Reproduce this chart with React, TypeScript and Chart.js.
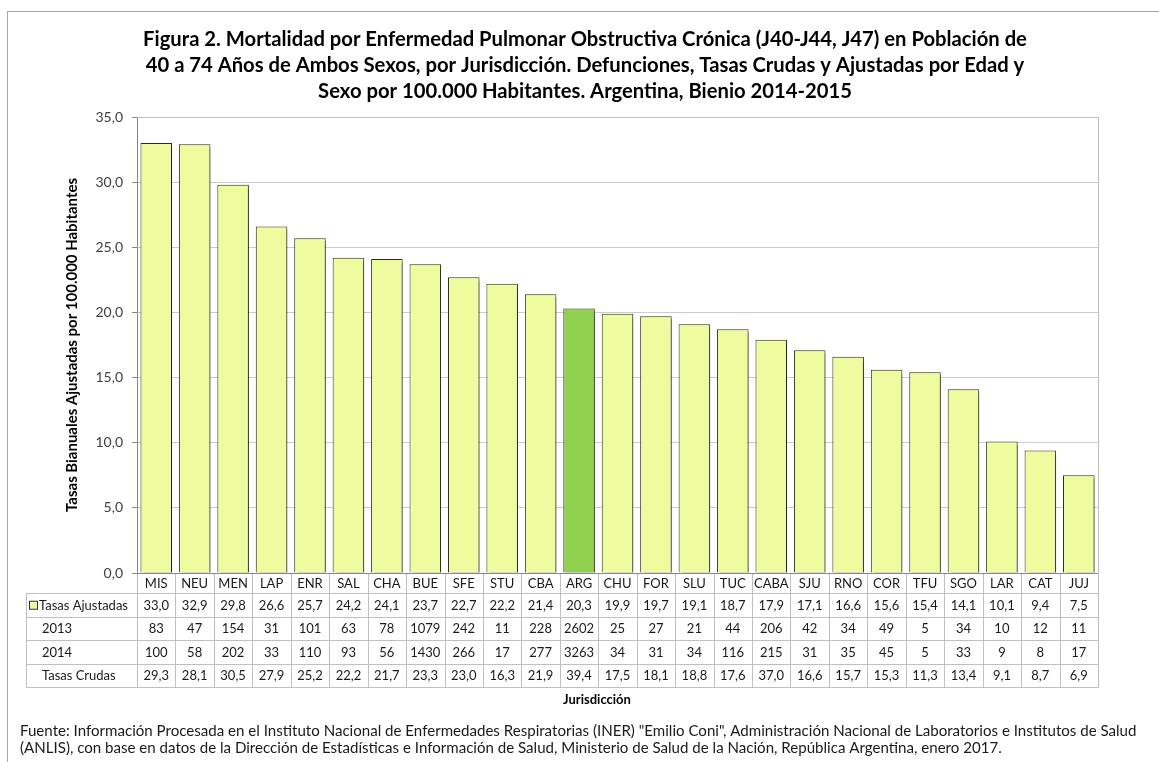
import React, { useEffect, useRef } from "react";
import { Chart, registerables } from "chart.js";

Chart.register(...registerables);

const categories = ["MIS", "NEU", "MEN", "LAP", "ENR", "SAL", "CHA", "BUE", "SFE", "STU", "CBA", "ARG", "CHU", "FOR", "SLU", "TUC", "CABA", "SJU", "RNO", "COR", "TFU", "SGO", "LAR", "CAT", "JUJ"];
const tasasAjustadas = [33.0, 32.9, 29.8, 26.6, 25.7, 24.2, 24.1, 23.7, 22.7, 22.2, 21.4, 20.3, 19.9, 19.7, 19.1, 18.7, 17.9, 17.1, 16.6, 15.6, 15.4, 14.1, 10.1, 9.4, 7.5];
const defunciones2013 = [83, 47, 154, 31, 101, 63, 78, 1079, 242, 11, 228, 2602, 25, 27, 21, 44, 206, 42, 34, 49, 5, 34, 10, 12, 11];
const defunciones2014 = [100, 58, 202, 33, 110, 93, 56, 1430, 266, 17, 277, 3263, 34, 31, 34, 116, 215, 31, 35, 45, 5, 33, 9, 8, 17];
const tasasCrudas = [29.3, 28.1, 30.5, 27.9, 25.2, 22.2, 21.7, 23.3, 23.0, 16.3, 21.9, 39.4, 17.5, 18.1, 18.8, 17.6, 37.0, 16.6, 15.7, 15.3, 11.3, 13.4, 9.1, 8.7, 6.9];
const highlightCategory = "ARG";

const rowLabels = ["Tasas Ajustadas", "2013", "2014", "Tasas Crudas"];
const titleLines = [
  "Figura 2. Mortalidad por Enfermedad Pulmonar Obstructiva Crónica (J40-J44, J47) en Población de",
  "40 a 74 Años de Ambos Sexos, por Jurisdicción. Defunciones, Tasas Crudas y Ajustadas por Edad y",
  "Sexo por 100.000 Habitantes. Argentina, Bienio 2014-2015",
];
const yAxisTitle = "Tasas Bianuales Ajustadas por 100.000 Habitantes";
const xAxisTitle = "Jurisdicción";
const sourceLines = [
  "Fuente: Información Procesada en el Instituto Nacional de Enfermedades Respiratorias (INER) \"Emilio Coni\", Administración Nacional de Laboratorios e Institutos de Salud",
  "(ANLIS), con base en datos de la Dirección de Estadísticas e Información de Salud, Ministerio de Salud de la Nación, República Argentina, enero 2017.",
];

const FONT = "Lato, 'Open Sans', sans-serif";
const BAR_COLOR = "#EEFB9E";
const HIGHLIGHT_COLOR = "#92D050";
const TABLE_LINE = "#BFBFBF";

const fmt1 = (v: number) => v.toFixed(1).replace(".", ",");

function fitSize(ctx: CanvasRenderingContext2D, text: string, weight: string, target: number) {
  ctx.font = `${weight} 20px ${FONT}`;
  const w = ctx.measureText(text).width;
  return (20 * target) / w;
}

const decorPlugin = {
  id: "decor",
  beforeDatasetsDraw(chart: any) {
    const ctx = chart.ctx;
    ctx.save();
    ctx.shadowColor = "rgba(0,0,0,0.35)";
    ctx.shadowOffsetX = 3;
    ctx.shadowOffsetY = 3;
    ctx.shadowBlur = 2;
  },
  afterDatasetsDraw(chart: any) {
    chart.ctx.restore();
  },
  afterDraw(chart: any) {
    const ctx: CanvasRenderingContext2D = chart.ctx;
    const area = chart.chartArea;
    const xs = chart.scales.x;
    const n = categories.length;
    const colW = (area.right - area.left) / n;

    ctx.save();
    // outer frame
    ctx.strokeStyle = "#A6A6A6";
    ctx.lineWidth = 1;
    ctx.strokeRect(7.5, 11.5, 1400, 1000);

    // plot border (top/right)
    ctx.strokeStyle = "#BFBFBF";
    ctx.beginPath();
    ctx.moveTo(area.left, Math.round(area.top) + 0.5);
    ctx.lineTo(Math.round(area.right) + 0.5, Math.round(area.top) + 0.5);
    ctx.lineTo(Math.round(area.right) + 0.5, Math.round(area.bottom));
    ctx.stroke();

    // title
    const tSize = fitSize(ctx, titleLines[0], "bold", 884);
    ctx.font = `bold ${tSize}px ${FONT}`;
    ctx.fillStyle = "#000";
    ctx.textAlign = "center";
    ctx.textBaseline = "middle";
    titleLines.forEach((l, i) => ctx.fillText(l, 585, 39 + i * 26));

    // y axis title
    const ySize = fitSize(ctx, yAxisTitle, "bold", 334);
    ctx.save();
    ctx.translate(72, (area.top + area.bottom) / 2);
    ctx.rotate(-Math.PI / 2);
    ctx.font = `bold ${ySize}px ${FONT}`;
    ctx.fillText(yAxisTitle, 0, 0);
    ctx.restore();

    // table
    const tableLeft = 26.5;
    const labelRowTop = Math.round(area.bottom);
    const labelRowH = 20;
    const rowH = 23.5;
    const rowTops = [0, 1, 2, 3, 4].map((i) => labelRowTop + labelRowH + i * rowH);
    const tableBottom = rowTops[4];

    ctx.strokeStyle = TABLE_LINE;
    ctx.lineWidth = 1;
    ctx.beginPath();
    for (let r = 0; r < 5; r++) {
      const yy = Math.round(rowTops[r]) + 0.5;
      ctx.moveTo(tableLeft, yy);
      ctx.lineTo(Math.round(area.right) + 0.5, yy);
    }
    ctx.moveTo(tableLeft, Math.round(rowTops[0]));
    ctx.lineTo(tableLeft, Math.round(tableBottom) + 0.5);
    for (let i = 0; i <= n; i++) {
      const xx = Math.round(area.left + i * colW) + 0.5;
      ctx.moveTo(xx, labelRowTop);
      ctx.lineTo(xx, Math.round(tableBottom) + 0.5);
    }
    ctx.stroke();

    // axis line at zero
    ctx.strokeStyle = "#868686";
    ctx.beginPath();
    ctx.moveTo(area.left - 5, labelRowTop + 0.5);
    ctx.lineTo(area.right, labelRowTop + 0.5);
    ctx.stroke();

    ctx.fillStyle = "#1A1A1A";
    ctx.font = `13px ${FONT}`;
    ctx.textAlign = "center";
    ctx.textBaseline = "middle";
    const rows = [
      tasasAjustadas.map(fmt1),
      defunciones2013.map(String),
      defunciones2014.map(String),
      tasasCrudas.map(fmt1),
    ];
    categories.forEach((c, i) => {
      const cx = xs.getPixelForValue(i);
      ctx.fillText(c, cx, labelRowTop + labelRowH / 2 + 1);
      rows.forEach((row, r) => {
        ctx.fillText(row[i], cx, rowTops[r] + rowH / 2 + 1);
      });
    });

    // row labels
    ctx.textAlign = "left";
    rowLabels.forEach((l, r) => {
      const cy = rowTops[r] + rowH / 2 + 1;
      if (r === 0) {
        ctx.fillStyle = BAR_COLOR;
        ctx.fillRect(29.5, cy - 4.5, 8, 8);
        ctx.strokeStyle = "#333";
        ctx.strokeRect(29.5, cy - 4.5, 8, 8);
        ctx.fillStyle = "#1A1A1A";
        ctx.fillText(l, 39, cy);
      } else {
        ctx.fillText(l, 42, cy);
      }
    });

    // x title
    ctx.textAlign = "center";
    ctx.font = `bold 13px ${FONT}`;
    ctx.fillStyle = "#000";
    ctx.fillText(xAxisTitle, 597, 700);

    // source
    const sSize = fitSize(ctx, sourceLines[0], "normal", 1118);
    ctx.font = `${sSize}px ${FONT}`;
    ctx.textAlign = "left";
    ctx.fillStyle = "#1A1A1A";
    sourceLines.forEach((l, i) => ctx.fillText(l, 20, 731 + i * 17));

    ctx.restore();
  },
};

export default function App() {
  const ref = useRef<HTMLCanvasElement>(null);
  useEffect(() => {
    if (!ref.current) return;
    const chart = new Chart(ref.current, {
      type: "bar",
      data: {
        labels: categories,
        datasets: [
          {
            label: "Tasas Ajustadas",
            data: tasasAjustadas,
            backgroundColor: categories.map((c) => (c === highlightCategory ? HIGHLIGHT_COLOR : BAR_COLOR)),
            borderColor: "#2B2B2B",
            borderWidth: 1,
            barPercentage: 0.82,
            categoryPercentage: 1,
          },
        ],
      },
      options: {
        responsive: false,
        animation: false,
        devicePixelRatio: 1,
        layout: { padding: { left: 0, top: 117, right: 61, bottom: 189 } },
        plugins: {
          legend: { display: false },
          title: { display: false },
          tooltip: { enabled: false },
        },
        scales: {
          x: {
            display: false,
          },
          y: {
            min: 0,
            max: 35,
            afterFit: (scale: any) => {
              scale.width = 137;
            },
            ticks: {
              stepSize: 5,
              padding: 9,
              color: "#404040",
              font: { family: FONT, size: 14 },
              callback: (v: any) => fmt1(Number(v)),
            },
            grid: {
              color: "#CCCCCC",
              tickColor: "#868686",
              tickLength: 5,
            },
            border: { display: true, color: "#868686" },
          },
        },
      },
      plugins: [decorPlugin],
    });
    return () => chart.destroy();
  }, []);
  return (
    <div style={{ position: "absolute", left: 0, top: 0, width: 1159, height: 762, background: "#fff" }}>
      <canvas ref={ref} width={1159} height={762} style={{ display: "block" }} />
    </div>
  );
}
